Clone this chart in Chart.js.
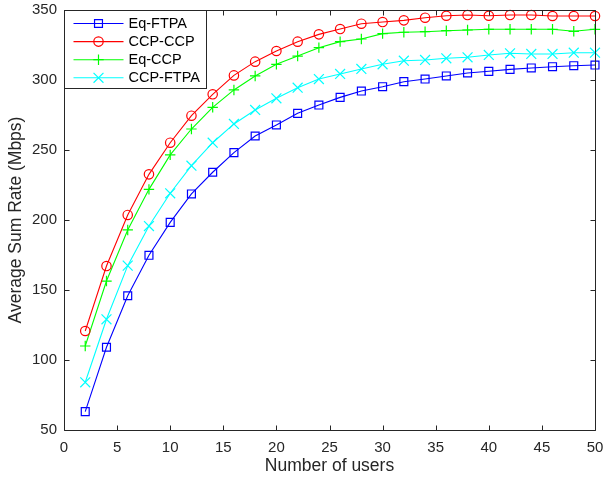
<!DOCTYPE html>
<html>
<head>
<meta charset="utf-8">
<script src="https://cdn.jsdelivr.net/npm/chart.js@4/dist/chart.umd.min.js"></script>
<style>
  html, body { margin: 0; padding: 0; background: #fff; }
  canvas { display: block; }
</style>
</head>
<body>
<canvas id="myChart" width="604" height="481"></canvas>
<script>
// values
const users = [2, 4, 6, 8, 10, 12, 14, 16, 18, 20, 22, 24, 26, 28, 30, 32, 34, 36, 38, 40, 42, 44, 46, 48, 50];
const eqFtpa = [63.1, 109.1, 145.9, 174.8, 198.3, 218.6, 234.1, 248.1, 260.0, 267.9, 276.2, 282.1, 287.6, 292.1, 295.2, 298.8, 300.7, 302.9, 305.0, 306.2, 307.6, 308.6, 309.5, 310.2, 310.7];
const ccpCcp = [120.7, 167.1, 203.6, 232.6, 255.2, 274.5, 289.8, 303.3, 313.1, 320.7, 327.4, 332.6, 336.4, 340.2, 341.4, 342.6, 344.5, 345.9, 346.4, 345.9, 346.4, 346.4, 345.7, 345.7, 345.7];
const eqCcp = [110.0, 156.4, 192.9, 221.9, 246.5, 265.0, 280.5, 292.9, 302.9, 311.2, 317.1, 323.1, 327.4, 329.3, 333.1, 334.1, 334.5, 335.2, 335.7, 336.2, 336.2, 336.2, 336.2, 334.8, 336.2];
const ccpFtpa = [84.1, 129.1, 167.4, 195.7, 219.1, 238.8, 255.2, 268.6, 278.6, 286.9, 294.5, 300.7, 304.3, 307.9, 311.2, 313.8, 314.3, 315.5, 316.2, 317.9, 319.1, 318.6, 318.6, 319.5, 319.5];

const seriesNames = ['Eq-FTPA', 'CCP-CCP', 'Eq-CCP', 'CCP-FTPA'];
const xTicks = [0, 5, 10, 15, 20, 25, 30, 35, 40, 45, 50];
const yTicks = [50, 100, 150, 200, 250, 300, 350];

const FONT = 'Liberation Sans, Arial, Helvetica, sans-serif';
const AXIS_COLOR = '#262626';

function pairs(vals){
    return vals.map(function(v, i){ return {x: users[i], y: v}; });
}

function makeSet(label, vals, color, style, radius){
    return {
        label: label,
        data: pairs(vals),
        borderColor: color,
        backgroundColor: color,
        borderWidth: 1.1,
        pointStyle: style,
        pointRadius: radius,
        pointHoverRadius: radius,
        pointBorderColor: color,
        pointBackgroundColor: 'rgba(0,0,0,0)',
        pointBorderWidth: 1.2,
        tension: 0,
        clip: false
    };
}

// drop the extra room chart.js keeps for the end labels, layout.padding does that job
function noScalePadding(scale){
    scale.paddingLeft = 0;
    scale.paddingRight = 0;
    scale.paddingTop = 0;
    scale.paddingBottom = 0;
}

// inward ticks on all four sides + axes box (matlab style)
const boxPlugin = {
    id: 'boxTicks',
    afterDatasetsDraw: function(chart){
        const ctx = chart.ctx;
        const a = chart.chartArea;
        const xs = chart.scales.x, ys = chart.scales.y;
        const L = Math.round(a.left) + 0.5, R = Math.round(a.right) + 0.5;
        const T = Math.round(a.top) + 0.5, B = Math.round(a.bottom) + 0.5;
        const len = 5;
        ctx.save();
        ctx.strokeStyle = AXIS_COLOR;
        ctx.lineWidth = 1;
        ctx.beginPath();
        ctx.rect(L, T, R - L, B - T);
        xTicks.forEach(function(v){
            const px = Math.round(xs.getPixelForValue(v)) + 0.5;
            ctx.moveTo(px, B); ctx.lineTo(px, B - len);
            ctx.moveTo(px, T); ctx.lineTo(px, T + len);
        });
        yTicks.forEach(function(v){
            const py = Math.round(ys.getPixelForValue(v)) + 0.5;
            ctx.moveTo(L, py); ctx.lineTo(L + len, py);
            ctx.moveTo(R, py); ctx.lineTo(R - len, py);
        });
        ctx.stroke();
        ctx.restore();
    }
};

function drawMarker(ctx, style, r, x, y){
    ctx.beginPath();
    if(style === 'rect'){
        const s = Math.SQRT1_2 * r;
        ctx.rect(x - s, y - s, 2 * s, 2 * s);
    } else if(style === 'circle'){
        ctx.arc(x, y, r, 0, Math.PI * 2);
    } else if(style === 'cross'){
        ctx.moveTo(x, y - r); ctx.lineTo(x, y + r);
        ctx.moveTo(x - r, y); ctx.lineTo(x + r, y);
    } else if(style === 'crossRot'){
        const o = Math.SQRT1_2 * r;
        ctx.moveTo(x - o, y - o); ctx.lineTo(x + o, y + o);
        ctx.moveTo(x - o, y + o); ctx.lineTo(x + o, y - o);
    }
    ctx.stroke();
}

// legend box in the upper left corner of the axes
const legendPlugin = {
    id: 'boxLegend',
    afterDraw: function(chart){
        const ctx = chart.ctx;
        const a = chart.chartArea;
        const x0 = Math.round(a.left) + 0.5, y0 = Math.round(a.top) + 0.5;
        const w = 142, h = 78;
        ctx.save();
        ctx.fillStyle = '#fff';
        ctx.fillRect(x0, y0, w, h);
        ctx.strokeStyle = AXIS_COLOR;
        ctx.lineWidth = 1;
        ctx.strokeRect(x0, y0, w, h);
        ctx.font = '14.5px ' + FONT;
        ctx.textBaseline = 'middle';
        ctx.textAlign = 'left';
        chart.data.datasets.forEach(function(ds, i){
            const yy = y0 + 13 + i * 18.1;
            ctx.strokeStyle = ds.borderColor;
            ctx.lineWidth = 1.1;
            ctx.beginPath();
            ctx.moveTo(x0 + 9, yy); ctx.lineTo(x0 + 59, yy);
            ctx.stroke();
            ctx.lineWidth = 1.2;
            drawMarker(ctx, ds.pointStyle, ds.pointRadius, x0 + 34, yy);
            ctx.fillStyle = '#000';
            ctx.fillText(ds.label, x0 + 64, yy + 0.5);
        });
        ctx.restore();
    }
};

const ctx = document.getElementById('myChart');
const myChart = new Chart(ctx, {
    type: 'line',
    data: {
        datasets: [
            makeSet(seriesNames[0], eqFtpa, '#0000ff', 'rect', 5.6),
            makeSet(seriesNames[1], ccpCcp, '#ff0000', 'circle', 4.7),
            makeSet(seriesNames[2], eqCcp, '#00ff00', 'cross', 5.2),
            makeSet(seriesNames[3], ccpFtpa, '#00ffff', 'crossRot', 7)
        ]
    },
    options: {
        responsive: false,
        devicePixelRatio: 1,
        animation: false,
        events: [],
        layout: {
            padding: {left: 0, right: 9, top: 10, bottom: 0}
        },
        plugins: {
            legend: {display: false},
            tooltip: {enabled: false}
        },
        scales: {
            x: {
                type: 'linear',
                min: 0,
                max: 50,
                grid: {display: false, drawTicks: false},
                border: {display: false},
                afterBuildTicks: function(scale){
                    scale.ticks = xTicks.map(function(v){ return {value: v}; });
                },
                afterFit: function(scale){
                    scale.height = 51;
                    noScalePadding(scale);
                },
                ticks: {
                    color: AXIS_COLOR,
                    font: {family: FONT, size: 15},
                    padding: 9,
                    maxRotation: 0
                },
                title: {
                    display: true,
                    text: 'Number of users',
                    color: AXIS_COLOR,
                    font: {family: FONT, size: 17.5},
                    padding: {top: 0, bottom: 4}
                }
            },
            y: {
                type: 'linear',
                min: 50,
                max: 350,
                grid: {display: false, drawTicks: false},
                border: {display: false},
                afterBuildTicks: function(scale){
                    scale.ticks = yTicks.map(function(v){ return {value: v}; });
                },
                afterFit: function(scale){
                    scale.width = 64;
                    noScalePadding(scale);
                },
                ticks: {
                    color: AXIS_COLOR,
                    font: {family: FONT, size: 15},
                    padding: 7
                },
                title: {
                    display: true,
                    text: 'Average Sum Rate (Mbps)',
                    color: AXIS_COLOR,
                    font: {family: FONT, size: 17.5},
                    padding: {top: 6, bottom: 0}
                }
            }
        }
    },
    plugins: [boxPlugin, legendPlugin]
});
</script>
</body>
</html>
